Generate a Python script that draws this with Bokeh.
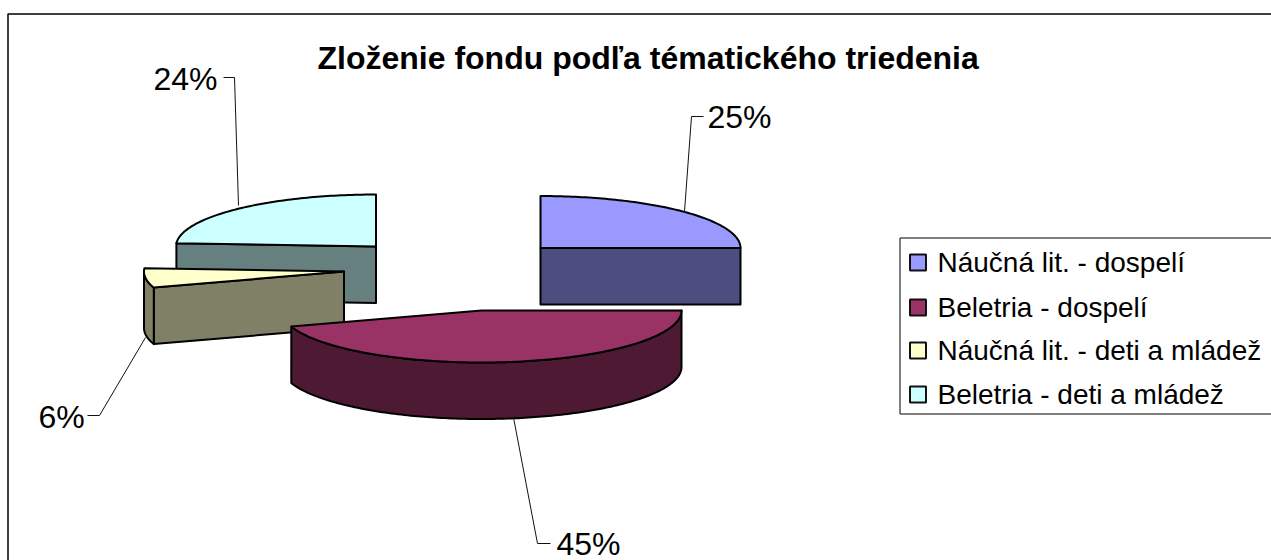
import numpy as np
from bokeh.embed import file_html
from bokeh.resources import INLINE
from bokeh.plotting import figure
from bokeh.models import Range1d
from bokeh.core.properties import value

TITLE = "Zloženie fondu podľa tématického triedenia"
categories = ["Náučná lit. - dospelí", "Beletria - dospelí",
              "Náučná lit. - deti a mládež", "Beletria - deti a mládež"]
shares = [25, 45, 6, 24]
top_colors = ["#9999FF", "#993366", "#FFFFCC", "#CCFFFF"]
side_colors = ["#4D4D80", "#4D1933", "#808066", "#668080"]

# layout (page pixels)
apex = [(540, 247.5), (481, 310), (343.5, 271), (375.5, 246)]
RX, RY, DEPTH = 200, 52, 56.5
draw_order = [3, 0, 2, 1]
label_anchor = [(707, 116), (556, 543), (38, 416), (153, 78)]
leaders = [([703, 691, 684], [116, 116, 211]),
           ([550, 537, 513], [543, 543, 417]),
           ([87, 99, 145], [415, 415, 337]),
           ([223, 234, 238], [77, 77, 205])]
legend_rows = [262, 307, 350, 394]

p = figure(width=1271, height=560, output_backend="svg", toolbar_location=None,
           x_range=Range1d(0, 1271), y_range=Range1d(560, 0),
           min_border=0, outline_line_color=None, background_fill_color="white",
           border_fill_color="white")
p.axis.visible = False
p.grid.visible = False


def rim(c, a0, a1, dy=0.0):
    t = np.radians(np.linspace(a0, a1, max(int(abs(a1 - a0)), 2) + 1))
    return c[0] + RX * np.sin(t), c[1] - RY * np.cos(t) + dy


def edge(c, a):
    x, y = rim(c, a, a)
    return [c[0], x[0], x[0], c[0]], [c[1], y[0], y[0] + DEPTH, c[1] + DEPTH]


ends = np.cumsum(shares) / sum(shares) * 360.0
starts = np.concatenate(([0.0], ends[:-1]))
style = dict(line_color="black", line_width=2, line_join="round")

for i in draw_order:
    c, a0, a1 = apex[i], starts[i], ends[i]
    if 180 < a0 < 360:
        x, y = edge(c, a0)
        p.patch(x, y, fill_color=side_colors[i], **style)
    if 0 < a1 <= 180:
        x, y = edge(c, a1)
        p.patch(x, y, fill_color=side_colors[i], **style)
    lo, hi = max(a0, 90.0), min(a1, 270.0)
    if hi > lo:
        xt, yt = rim(c, lo, hi)
        xb, yb = rim(c, hi, lo, DEPTH)
        p.patch(np.r_[xt, xb], np.r_[yt, yb], fill_color=side_colors[i], **style)
    xt, yt = rim(c, a0, a1)
    p.patch(np.r_[c[0], xt], np.r_[c[1], yt], fill_color=top_colors[i], **style)

for (lx, ly) in leaders:
    p.line(lx, ly, line_color="#111111", line_width=1)

LABEL_FONT = value("Liberation Sans")
p.text([a[0] for a in label_anchor], [a[1] for a in label_anchor],
       text=[f"{s}%" for s in shares], text_font=LABEL_FONT,
       text_font_size=value("32px"), text_color="black",
       text_align="left", text_baseline="middle")

p.text([317], [57], text=[TITLE], text_font=LABEL_FONT, text_font_size=value("32px"),
       text_font_style="bold", text_color="black",
       text_align="left", text_baseline="middle")

# frame of the chart area: only its top and left edges fall inside the picture
p.line([1271, 7.5, 7.5], [13.5, 13.5, 560], line_color="black", line_width=1.5)

# legend
p.line([1271, 899.5, 899.5, 1271], [237.5, 237.5, 413.5, 413.5], line_color="black", line_width=1)
p.rect([917.5] * 4, legend_rows, width=16, height=16, fill_color=top_colors,
       line_color="#111111", line_width=2)
p.text([937] * 4, legend_rows, text=categories, text_font=LABEL_FONT,
       text_font_size=value("28px"), text_color="black",
       text_align="left", text_baseline="middle")

open("out.html", "w").write(file_html(p, INLINE))
